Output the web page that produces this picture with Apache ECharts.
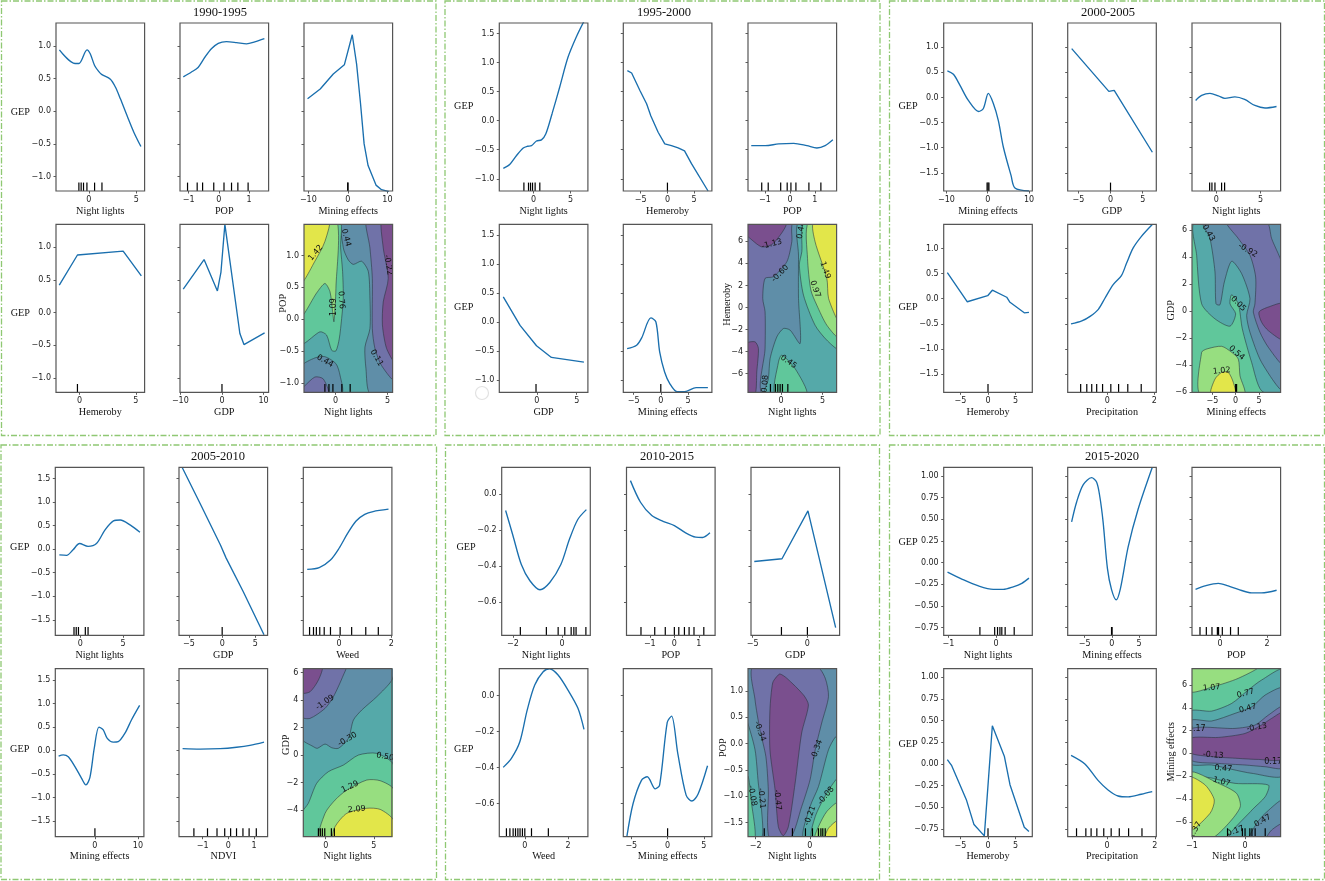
<!DOCTYPE html>
<html><head><meta charset="utf-8">
<style>html,body{margin:0;padding:0;background:#fff}#c{width:1325px;height:881px;filter:blur(.3px)}</style>
<script src="https://cdn.jsdelivr.net/npm/echarts@6/dist/echarts.min.js"></script>
</head><body><div id="c"></div>
<script>
// ---------- values ----------
const periods=['1990-1995','1995-2000','2000-2005','2005-2010','2010-2015','2015-2020'];
const gepRange=[[-1.22,1.35],[-1.21,1.68],[-1.86,1.48],[-1.83,1.74],[-0.783,0.15],[-0.84,1.10]];
const gepTicks=[[-1,-.5,0,.5,1],[-1,-.5,0,.5,1,1.5],[-1.5,-1,-.5,0,.5,1],[-1.5,-1,-.5,0,.5,1,1.5],[-.6,-.4,-.2,0],[-.75,-.5,-.25,0,.25,.5,.75,1]];
const gepDecimals=[1,1,1,1,1,2];

// 1990-1995
const night90=[[-3.12,.94],[-1.45,.73],[-1.06,.73],[-.2,.94],[.14,.88],[.6,.7],[1.03,.61],[1.38,.56],[2.27,.49],[2.8,.37],[3.33,.19],[4.04,-.07],[4.75,-.32],[5.5,-.54]];
const night90Rug=[-1.06,-.82,-.57,-.21,.6,1.38];
const pop90=[[-1.18,.525],[-.91,.6],[-.69,.67],[-.46,.83],[-.24,.96],[-.02,1.04],[.25,1.065],[.59,1.05],[.92,1.03],[1.19,1.06],[1.51,1.11]];
const pop90Rug=[-1.04,-.72,-.54,-.17,.17,.42,.63,.97];
const mining90=[[-10.2,.19],[-7,.34],[-3.7,.57],[-.9,.71],[1.1,1.17],[2.2,.72],[3.2,.11],[4.1,-.5],[5.1,-.83],[7.1,-1.13],[8.5,-1.2],[10.4,-1.23]];
const mining90Rug=[-.05,.02];
const hem90=[[-1.79,.42],[-.18,.88],[3.87,.94],[5.48,.56]];
const hem90Rug=[-.18];
const gdp90=[[-9.3,.36],[-4.3,.81],[-1.1,.33],[-.24,.62],[.7,1.35],[4.3,-.32],[5.28,-.49],[10.24,-.31]];
const gdp90Rug=[0];
// 1995-2000
const night95=[[-4.06,-.82],[-3.17,-.75],[-2.28,-.6],[-1.38,-.47],[-.8,-.44],[-.27,-.43],[.4,-.35],[1.07,-.33],[1.65,-.23],[2.5,.12],[3.53,.58],[4.64,1.09],[5.76,1.44],[6.79,1.71]];
const night95Rug=[-1.29,-.67,-.4,-.13,.22,.85];
const hem95=[[-7.5,.86],[-6.7,.82],[-5.15,.52],[-3.9,.29],[-3.1,.08],[-1.74,-.2],[-.5,-.4],[.75,-.43],[2,-.47],[3.2,-.52],[4.5,-.74],[7.6,-1.21]];
const hem95Rug=[0];
const pop95=[[-1.55,-.43],[-.99,-.43],[-.45,-.4],[.15,-.39],[.68,-.43],[1.08,-.47],[1.41,-.43],[1.72,-.33]];
const pop95Rug=[-1.13,-.87,-.37,-.11,.04,.24,.76,1.24];
const gdp95=[[-4.2,.43],[-2.1,-.06],[-.04,-.41],[1.83,-.61],[5.9,-.69]];
const gdp95Rug=[-.1];
const mining95=[[-6.2,-.46],[-4.45,-.4],[-3.5,-.27],[-1.83,.07],[-.9,0],[-.2,-.52],[.7,-.86],[1.65,-1.06],[3,-1.2],[4.4,-1.2],[6.5,-1.13],[8.66,-1.13]];
const mining95Rug=[0];
// 2000-2005
const mining00=[[-9.76,.53],[-8.3,.46],[-6.7,.24],[-4.68,-.06],[-2.18,-.28],[-1.05,-.22],[.16,.08],[1.37,-.12],[2.58,-.46],[3.8,-.99],[5.65,-1.55],[6.6,-1.8],[10,-1.86]];
const mining00Rug=[-.15,.08,.3];
const gdp00=[[-6.03,.97],[-.26,.12],[.57,.14],[6.5,-1.09]];
const gdp00Rug=[0];
const night00=[[-2.33,-.06],[-1.65,.04],[-.71,.08],[.23,.03],[.98,-.02],[2.1,.01],[3.2,-.04],[4.36,-.16],[5.5,-.21],[6.8,-.18]];
const night00Rug=[-.75,-.49,-.15,.6,.94];
const hem00=[[-7.4,.52],[-3.76,-.06],[-.06,.06],[.79,.17],[3.4,.03],[4,-.07],[6.6,-.28],[7.45,-.27]];
const hem00Rug=[0];
const prec00=[[-1.54,-.5],[-1.08,-.44],[-.73,-.35],[-.38,-.21],[-.1,.01],[.25,.28],[.6,.46],[.82,.71],[1.1,1.01],[1.45,1.24],[1.92,1.48]];
const prec00Rug=[-1.13,-.87,-.66,-.45,-.2,.15,.48,.87,1.44];
// 2005-2010
const night05=[[-2.43,-.12],[-1.58,-.13],[-.86,-.02],[-.07,.12],[.92,.06],[1.9,.12],[2.9,.41],[3.88,.6],[4.67,.62],[5.86,.51],[6.97,.36]];
const night05Rug=[-.72,-.46,-.2,.6,.92];
const gdp05=[[-6,1.73],[-3.25,.95],[-.26,.09],[.6,-.19],[3.16,-.9],[6.3,-1.82]];
const gdp05Rug=[0];
const weed05=[[-1.22,-.43],[-.76,-.39],[-.33,-.23],[0,.02],[.33,.34],[.65,.6],[.98,.74],[1.3,.8],[1.89,.85]];
const weed05Rug=[-1.13,-.98,-.87,-.74,-.57,-.33,.04,.48,1.02,1.5];
const mining05=[[-8.45,-.12],[-7.36,-.09],[-6.2,-.13],[-4.65,-.34],[-3.1,-.59],[-2.1,-.73],[-1.16,-.57],[-.15,.05],[.93,.5],[1.94,.44],[2.87,.26],[4.26,.18],[5.43,.19],[7,.37],[8.5,.65],[10.4,.96]];
const mining05Rug=[0];
const ndvi05=[[-1.78,.04],[-1.1,.03],[-.32,.04],[.32,.07],[.84,.11],[1.39,.18]];
const ndvi05Rug=[-1.34,-.81,-.44,-.14,.09,.32,.57,.81,1.09];
// 2010-2015
const night10=[[-2.3,-.09],[-2,-.23],[-1.66,-.39],[-1.31,-.48],[-.9,-.53],[-.5,-.49],[-.05,-.39],[.3,-.25],[.64,-.14],[.99,-.085]];
const night10Rug=[-1.7,-.64,-.16,.11,.37,.48,.57,.97];
const pop10=[[-1.79,.076],[-1.38,-.044],[-.92,-.118],[-.46,-.15],[0,-.174],[.46,-.214],[.87,-.238],[1.15,-.24],[1.45,-.214]];
const pop10Rug=[-1.36,-.8,-.37,0,.18,.41,.6,.8,1.2];
const gdp10=[[-4.85,-.373],[-2.32,-.358],[.05,-.092],[2.58,-.74]];
const gdp10Rug=[-2.37,0];
const weed10=[[-1,-.398],[-.62,-.348],[-.23,-.256],[.11,-.08],[.46,.059],[.85,.133],[1.15,.15],[1.54,.115],[2,.031],[2.46,-.07],[2.74,-.187]];
const weed10Rug=[-.85,-.69,-.54,-.43,-.32,-.22,-.11,0,.31,1.09];
const mining10=[[-5.6,-.78],[-4.76,-.6],[-3.6,-.47],[-2.8,-.45],[-1.7,-.517],[-1.1,-.496],[-.05,-.148],[.55,-.113],[1.4,-.32],[2.55,-.552],[3.35,-.585],[4.2,-.546],[5.5,-.389]];
const mining10Rug=[0];
// 2015-2020
const night15=[[-1.02,-.11],[-.72,-.19],[-.37,-.27],[-.06,-.31],[.15,-.31],[.36,-.28],[.54,-.24],[.69,-.18]];
const night15Rug=[-.34,-.03,.03,.08,.12,.19,.38];
const mining15=[[-7.38,.47],[-6.46,.7],[-5.24,.9],[-3.72,.98],[-2.8,.93],[-2.2,.76],[-1.6,.47],[-.8,-.07],[-.06,-.31],[.8,-.43],[1.58,-.3],[3,.18],[4.8,.61],[7.44,1.1]];
const mining15Rug=[-.05,.05];
const pop15=[[-1.04,-.31],[-.64,-.27],[-.07,-.24],[.35,-.27],[.78,-.31],[1.35,-.35],[1.77,-.35],[2.41,-.32]];
const pop15Rug=[-.85,-.58,-.34,-.11,-.06,.1,.45,.78];
const hem15=[[-7.4,.05],[-6.6,-.02],[-3.9,-.42],[-2.55,-.7],[-.67,-.83],[.79,.44],[2.97,.09],[4,-.24],[6.6,-.73],[7.45,-.78]];
const hem15Rug=[0];
const prec15=[[-1.51,.1],[-.93,0],[-.38,-.19],[.04,-.3],[.46,-.37],[.88,-.38],[1.43,-.35],[1.89,-.32]];
const prec15Rug=[-1.28,-.89,-.67,-.43,-.14,.17,.51,.9,1.46];

// contour regions: [band, outline in data units]; band 0 lowest ... 6 highest
const contour90=[
[3,[[-3.3,1.6],[5.7,1.6],[5.7,-1.2],[-3.3,-1.2]]],
[2,[[.67,1.6],[.74,1.12],[1.22,.93],[1.7,.86],[2.5,.91],[3.14,.75],[3.3,.33],[3.3,-.15],[2.82,-.44],[2.92,-.78],[3.3,-1.17],[5.7,-1.17],[5.7,1.6]]],
[1,[[2.98,1.6],[3.3,1.12],[3.53,.64],[3.53,-.15],[3.78,-.46],[4.42,-.73],[5.7,-.96],[5.7,1.6]]],
[0,[[4.42,1.6],[4.58,1.12],[5.06,.64],[4.58,.27],[4.5,-.09],[4.9,-.46],[5.7,-.67],[5.7,1.6]]],
[2,[[-3.27,-.74],[-1.99,-.61],[-1.03,-.59],[.03,-.7],[.42,-.88],[.58,-1.17],[-3.27,-1.17]]],
[1,[[-3.27,-1.1],[-3.04,-1.06],[-1.99,-.91],[-1.19,-.94],[-.71,-1.17],[-3.27,-1.17]]],
[4,[[-3.27,-.38],[-1.51,-.2],[-.87,-.25],[-.38,-.49],[.03,-.5],[.35,-.31],[.58,.01],[.74,.33],[.67,.75],[.48,1.12],[.35,1.6],[-3.27,1.6]]],
[5,[[-3.27,.06],[-1.83,.41],[-1.03,.56],[-.54,.43],[-.29,.12],[-.16,-.04],[.03,.48],[.03,1.6],[-3.27,1.6]]],
[6,[[-3.27,.58],[-1.99,.91],[-1.03,1.22],[-.61,1.6],[-3.27,1.6]]]];
const contour90Labels=[['1.42',-1.92,1.04,50],['0.44',1,1.28,-75],['-0.22',5.06,.85,-80],['1.09',-.16,.19,90],['0.76',.54,.3,-85],['0.44',-1.03,-.66,-30],['0.11',3.94,-.61,-60]];
const contour90Rug=[-1.03,-.64,-.26,.6,1.4];

const contour95=[
[1,[[-4.2,7.7],[6.95,7.7],[6.95,-7.9],[-4.2,-7.9]]],
[0,[[-4.2,6.5],[-4,6.42],[-2.34,5.5],[-.93,5.82],[.6,7.7],[-4.2,7.7]]],
[0,[[-4.2,-3.3],[-3.15,-3.12],[-2.74,-3.73],[-2.94,-5.85],[-3.15,-7.9],[-4.2,-7.9]]],
[2,[[1.49,7.7],[1.29,5.97],[.69,4.15],[-.93,2.79],[-1.94,2.64],[-2.22,.82],[-1.94,-.39],[-1.94,-3.73],[-2.2,-7.9],[6.95,-7.9],[6.95,7.7]]],
[3,[[2.1,7.7],[2.1,4.76],[2.1,.82],[2.3,-3.27],[1.09,-2.06],[.28,-1.91],[-.52,-2.67],[-1.33,-4.64],[-1.53,-6.45],[-1.94,-7.9],[6.95,-7.9],[6.95,7.7]]],
[4,[[2.78,7.7],[2.5,5.06],[2.2,3.85],[2.7,1.12],[4.1,-1.61],[5.52,-2.97],[6.94,-3.73],[6.94,7.7]]],
[5,[[3.3,7.7],[3.19,4.45],[3.59,1.58],[4.31,.21],[5.52,-1.61],[6.94,-2.67],[6.94,7.7]]],
[6,[[3.91,7.7],[4.1,5.97],[5.52,2.64],[5.73,.82],[6.94,-1.15],[6.94,7.7]]],
[4,[[-.73,-7.9],[-.32,-4.94],[.08,-4.33],[1.69,-5.55],[3.1,-7.9]]]];
const contour95Labels=[['-1.13',-1.13,5.76,15],['-0.60',-.12,3.09,45],['0.45',.89,-4.94,-35],['0.97',4.11,1.67,-70],['1.49',5.32,3.39,-70],['0.44',2.42,7.03,80],['-0.08',-1.94,-7.06,85]];
const contour95Rug=[-1.29,-.69,-.4,-.12,.16,.81];

const contour00=[
[4,[[-9.6,6.6],[10.2,6.6],[10.2,-6.2],[-9.6,-6.2]]],
[3,[[-8.71,6.6],[-8.36,4.13],[-7.29,.54],[-4.43,-.57],[-1.21,-1.11],[0,-.2],[-1.21,.54],[-.86,1.21],[.57,.54],[1.43,-1.31],[3.43,-3.79],[5.57,-5.89],[10.2,-6.14],[10.2,6.6]]],
[2,[[-6.93,6.6],[-5.5,5.37],[-4.43,2.9],[-4.21,.54],[-3.36,.47],[-2.43,2.15],[-.86,3.69],[1.29,2.77],[3.07,.92],[2.36,-.32],[3.07,-1.56],[5.57,-3.79],[10.2,-5.82],[10.2,6.6]]],
[1,[[-1.93,6.6],[.57,5.37],[3.07,4.13],[4.29,2.52],[4.14,.54],[3.79,-.07],[5.21,-1.56],[7,-2.67],[10.2,-3.91],[10.2,3.14],[7.71,5.37],[6.64,6.6]]],
[0,[[10.2,.54],[7,.3],[5,-.07],[5.57,-.82],[7,-1.44],[10.2,-2.1]]],
[5,[[-7.64,-6.14],[-7.29,-3.04],[-6.21,-2.8],[-3,-2.6],[-.86,-3.04],[.57,-3.54],[.93,-4.78],[1.86,-6.14]]],
[6,[[-5.29,-6.14],[-4.43,-5.02],[-3,-4.53],[-1.57,-4.53],[-.5,-5.27],[-.14,-6.14]]]];
const contour00Labels=[['-0.43',-6,5.87,-60],['-0.92',2.57,4.5,-30],['0.05',.57,.54,-45],['0.54',.21,-3.09,-40],['1.02',-3,-4.41,5]];
const contour00Rug=[0,.2];

const contour05=[
[3,[[-2.5,6.43],[7.05,6.43],[7.05,-6.07],[-2.5,-6.07]]],
[2,[[-2.5,1.21],[-1.28,.61],[-.87,.49],[-.07,.8],[.63,.53],[1.32,.49],[2.36,1.21],[2.88,2.55],[3.75,3.28],[5.31,4.25],[6.88,5.46],[7.05,6.43],[-2.5,6.43]]],
[1,[[-2.5,2.79],[-1.63,2.67],[-.07,3.4],[.8,4.25],[1.84,5.83],[2.08,6.43],[-2.5,6.43]]],
[0,[[-2.5,4.54],[-1.63,4.61],[-.76,5.46],[-.38,6.43],[-2.5,6.43]]],
[4,[[-2.5,-4.25],[-1.81,-3.52],[-.94,-2.06],[.28,-1.21],[1.84,-.73],[3.4,0],[5.31,.12],[7.05,-.73],[7.05,-6.07],[-2.5,-6.07]]],
[5,[[-.59,-6.07],[-.07,-4.25],[.97,-3.28],[2.19,-2.55],[4.27,-1.82],[5.66,-1.87],[7.05,-2.5],[7.05,-6.07]]],
[6,[[.8,-6.07],[.97,-5.22],[2.19,-4.25],[4.27,-3.88],[5.66,-3.96],[7.05,-4.73],[7.05,-6.07]]]];
const contour05Labels=[['-1.09',-.07,3.83,35],['-0.30',2.26,1.14,30],['0.50',6.18,-.12,-10],['1.29',2.53,-2.31,25],['2.09',3.23,-3.96,5]];
const contour05Rug=[-.76,-.56,-.35,-.1,.59,.9];

const contour10=[
[2,[[-2.4,1.46],[1.06,1.46],[1.06,-1.8],[-2.4,-1.8]]],
[1,[[-2.09,1.46],[-2.02,.83],[-1.84,.26],[-1.62,-.25],[-1.53,-.88],[-1.49,-1.8],[-.73,-1.8],[-.3,-1.2],[.01,-.69],[.2,-.12],[.44,.39],[.69,.89],[.57,1.24],[.26,1.46]]],
[0,[[-1.22,1.27],[-1.37,1.15],[-1.47,.64],[-1.47,-.12],[-1.28,-.88],[-1.16,-1.58],[-.98,-1.75],[-.79,-1.58],[-.54,-.75],[-.3,.2],[-.05,.73],[-.23,.92],[-.85,1.24],[-1.1,1.32]]],
[3,[[-2.4,.45],[-2.33,.45],[-2.02,-.12],[-1.9,-.75],[-1.78,-1.26],[-1.78,-1.8],[-2.4,-1.8]]],
[4,[[-2.4,-.59],[-2.27,-.63],[-2.15,-1.13],[-2.02,-1.8],[-2.4,-1.8]]],
[3,[[1.06,.12],[.94,.12],[.69,-.12],[.32,-.82],[.01,-1.2],[-.23,-1.8],[1.06,-1.8]]],
[4,[[1.06,-.66],[.63,-.94],[.2,-1.39],[.07,-1.8],[1.06,-1.8]]],
[5,[[1.06,-1.12],[.63,-1.29],[.32,-1.58],[.2,-1.8],[1.06,-1.8]]],
[6,[[1.06,-1.46],[.69,-1.61],[.57,-1.8],[1.06,-1.8]]]];
const contour10Labels=[['-0.34',-1.84,.23,-70],['-0.34',.26,-.12,70],['-0.47',-1.19,-1.07,-85],['-0.21',-1.78,-1.04,-85],['-0.08',-2.12,-.99,-80],['-0.21',.01,-1.37,70],['-0.08',.6,-.99,50]];
const contour10Rug=[-1.68,-.64,-.16,.1,.32,.41,.48,.57];

const contour15=[
[4,[[-1.04,7.6],[.72,7.6],[.72,-7.46],[-1.04,-7.46]]],
[5,[[-1.04,5.41],[-.6,5.85],[-.13,6.58],[.25,7.6],[-1.04,7.6]]],
[3,[[-1.04,3.65],[-.63,3.71],[-.25,4.39],[.06,5.56],[.31,6.43],[.72,7.31],[.72,-7.46],[-.31,-7.46],[.13,-4.97],[.38,-3.8],[.44,-2.78],[-.19,-2.63],[-.6,-2.19],[-1.04,-1.61]]],
[2,[[-1.04,2.84],[-.63,2.84],[-.19,3.51],[.13,4.09],[.38,5.12],[.72,5.7],[.72,-1.9],[.13,-1.75],[-.25,-1.4],[-.63,-1.02],[-1.04,-.88]]],
[2,[[.72,-4.09],[.38,-5.26],[.22,-6.14],[.09,-7.46],[.72,-7.46]]],
[1,[[-1.04,2.11],[-.19,2.19],[.19,2.49],[.44,3.36],[.72,4.09],[.72,-1.23],[.38,-1.17],[0,-1.02],[-.5,-.88],[-1.04,-.53]]],
[1,[[.72,-6.14],[.5,-6.73],[.41,-7.46],[.72,-7.46]]],
[0,[[-1.04,1.32],[-.5,1.4],[0,1.75],[.31,2.49],[.5,3.07],[.72,3.57],[.72,-.44],[.25,-.53],[-.13,-.44],[-.6,-.29],[-1.04,.06]]],
[5,[[-1.04,-1.7],[-.5,-2.63],[-.16,-3.51],[-.09,-4.68],[-.31,-6.14],[-.63,-7.46],[-1.04,-7.46]]],
[6,[[-1.04,-2.13],[-.75,-2.78],[-.58,-4.09],[-.66,-5.26],[-1.04,-6.73]]]];
const contour15Labels=[['1.07',-.63,5.76,5],['0.77',.01,5.26,15],['0.47',.05,3.95,15],['-0.13',.22,2.28,10],['0.17',-.91,2.19,0],['-0.13',-.6,-.15,-5],['0.47',-.41,-1.32,-5],['0.17',.53,-.79,0],['1.07',-.44,-2.49,-15],['0.47',.33,-5.91,30],['0.17',-.18,-6.81,20],['1.37',-.94,-6.73,60]];
const contour15Rug=[-.33,-.05,0,.09,.13,.19,.38];

// panel, row, col, x label, x range, x ticks, curve, rug, smooth
const curves=[
[0,0,0,'Night lights',[-3.48,5.89],[0,5],night90,night90Rug,1],
[0,0,1,'POP',[-1.29,1.65],[-1,0,1],pop90,pop90Rug,1],
[0,0,2,'Mining effects',[-11.1,11.3],[-10,0,10],mining90,mining90Rug,0],
[0,1,0,'Hemeroby',[-2.08,5.77],[0,5],hem90,hem90Rug,0],
[0,1,1,'GDP',[-10.08,11.2],[-10,0,10],gdp90,gdp90Rug,0],
[1,0,0,'Night lights',[-4.6,7.32],[0,5],night95,night95Rug,1],
[1,0,1,'Hemeroby',[-8.26,8.32],[-5,0,5],hem95,hem95Rug,0],
[1,0,2,'POP',[-1.68,1.87],[-1,0,1],pop95,pop95Rug,1],
[1,1,0,'GDP',[-4.7,6.4],[0,5],gdp95,gdp95Rug,0],
[1,1,1,'Mining effects',[-6.9,9.4],[-5,0,5],mining95,mining95Rug,1],
[2,0,0,'Mining effects',[-10.65,10.8],[-10,0,10],mining00,mining00Rug,1],
[2,0,1,'GDP',[-6.65,7.11],[-5,0,5],gdp00,gdp00Rug,0],
[2,0,2,'Night lights',[-2.74,7.26],[0,5],night00,night00Rug,1],
[2,1,0,'Hemeroby',[-8.06,8.06],[-5,0,5],hem00,hem00Rug,0],
[2,1,1,'Precipitation',[-1.68,2.08],[0,2],prec00,prec00Rug,1],
[3,0,0,'Night lights',[-2.9,7.43],[0,5],night05,night05Rug,1],
[3,0,1,'GDP',[-6.5,6.84],[-5,0,5],gdp05,gdp05Rug,0],
[3,0,2,'Weed',[-1.37,2.02],[0,2],weed05,weed05Rug,1],
[3,1,0,'Mining effects',[-9.22,11.4],[0,10],mining05,mining05Rug,1],
[3,1,1,'NDVI',[-1.92,1.53],[-1,0,1],ndvi05,ndvi05Rug,1],
[4,0,0,'Night lights',[-2.46,1.15],[-2,0],night10,night10Rug,1],
[4,0,1,'POP',[-1.95,1.66],[-1,0,1],pop10,pop10Rug,1],
[4,0,2,'GDP',[-5.15,2.94],[-5,0],gdp10,gdp10Rug,0],
[4,1,0,'Weed',[-1.18,2.92],[0,2],weed10,weed10Rug,1],
[4,1,1,'Mining effects',[-6.1,6.1],[-5,0,5],mining10,mining10Rug,1],
[5,0,0,'Night lights',[-1.1,.76],[-1,0],night15,night15Rug,1],
[5,0,1,'Mining effects',[-8.1,8.17],[-5,0,5],mining15,mining15Rug,1],
[5,0,2,'POP',[-1.19,2.58],[0,2],pop15,pop15Rug,1],
[5,1,0,'Hemeroby',[-8.06,8.06],[-5,0,5],hem15,hem15Rug,0],
[5,1,1,'Precipitation',[-1.65,2.06],[0,2],prec15,prec15Rug,1]];

// panel, x label, x range, x ticks, y label, y range, y ticks, y decimals, regions, labels, rug
const contours=[
[0,'Night lights',[-3.04,5.48],[0,5],'POP',[-1.15,1.49],[-1,-.5,0,.5,1],1,contour90,contour90Labels,contour90Rug],
[1,'Night lights',[-4,6.7],[0,5],'Hemeroby',[-7.7,7.55],[-6,-4,-2,0,2,4,6],0,contour95,contour95Labels,contour95Rug],
[2,'Mining effects',[-9.36,9.64],[-5,0,5],'GDP',[-6,6.42],[-6,-4,-2,0,2,4,6],0,contour00,contour00Labels,contour00Rug],
[3,'Night lights',[-2.33,6.88],[0,5],'GDP',[-5.95,6.29],[-4,-2,0,2,4,6],0,contour05,contour05Labels,contour05Rug],
[4,'Night lights',[-2.28,.99],[-2,0],'POP',[-1.77,1.42],[-1.5,-1,-.5,0,.5,1],1,contour10,contour10Labels,contour10Rug],
[5,'Night lights',[-1,.67],[-1,0],'Mining effects',[-7.31,7.43],[-6,-4,-2,0,2,4,6],0,contour15,contour15Labels,contour15Rug]];

// ---------- layout and style ----------
const bandColors=['#7a4f8e','#7072a8','#5f8ea8','#55a9a9','#60c79b','#97de80','#e2e64a'];
const rowTop=[[23,224.3],[23,224.3],[23,224.3],[467.3,668.7],[467.3,668.7],[467.3,668.7]];
const colLeft=[
 [[56,180,304],[56,180,304]],
 [[499.3,623.3,748],[499.3,623.3,748]],
 [[943.7,1067.7,1192],[943.7,1067.7,1192]],
 [[55.3,179,303.3],[55.3,179,303.3]],
 [[501.7,626.5,751],[499.3,623.3,748]],
 [[943.7,1067.7,1192],[943.7,1067.7,1192]]];
const W=88.6,H=168;
const titleX=[220,664,1108,218,667,1112], titleY=[6,6,6,450,450,450];
const gepShift=[5,-1,-1,-3.6,-3.6,-8.5];
const contourNameGap=[16,16,16,12,20,16], contourNameShift=[5,4,-2,8,5,1];
const frames=[[1.5,1,434.5,434.5],[445,1,435,434.5],[889.5,1,435,434.5],[1,445,435.5,434.5],[445.5,445,434,434.5],[889.5,445,435,434.5]];
const serif='"Liberation Serif"', sans='"DejaVu Sans"';

const grids=[],xAxes=[],yAxes=[],series=[],graphics=[];
function fmt(d){return v=>(v<0?'\u2212':'')+Math.abs(v).toFixed(d);}
function addAxes(panel,row,col,xName,xr,xt,yr,yt,yDec,showY,yOpt){
  const i=grids.length;
  grids.push({left:colLeft[panel][row][col],top:rowTop[panel][row],width:W,height:H,show:true,z:10,
    backgroundColor:'transparent',borderColor:'#555',borderWidth:1.2});
  xAxes.push({gridIndex:i,type:'value',min:xr[0],max:xr[1],position:'bottom',
    name:xName,nameLocation:'middle',nameGap:15,nameMoveOverlap:false,
    nameTextStyle:{fontFamily:serif,fontSize:10.2,color:'#111'},
    axisLine:{show:false,onZero:false},splitLine:{show:false},
    axisTick:{show:true,length:2.5,customValues:xt,lineStyle:{color:'#333',width:.8}},
    axisLabel:{show:true,customValues:xt,margin:5,fontFamily:sans,fontSize:8,color:'#222',formatter:fmt(0)}});
  yAxes.push(Object.assign({gridIndex:i,type:'value',min:yr[0],max:yr[1],position:'left',
    axisLine:{show:false,onZero:false},splitLine:{show:false},nameMoveOverlap:false,
    axisTick:{show:true,length:2.5,customValues:yt,lineStyle:{color:'#333',width:.8}},
    axisLabel:{show:showY,customValues:yt,margin:5,fontFamily:sans,fontSize:8,color:'#222',formatter:fmt(yDec)}},yOpt||{}));
  return i;
}
function rugSeries(i,rug){
  return {type:'custom',xAxisIndex:i,yAxisIndex:i,coordinateSystem:'cartesian2d',clip:true,silent:true,z:4,
    data:rug.map(v=>[v]),
    renderItem(p,api){
      const yr=yAxes[i],v=rug[p.dataIndex];
      const a=api.coord([v,yr.min]),b=api.coord([v,yr.min+.05*(yr.max-yr.min)]);
      return {type:'line',shape:{x1:a[0],y1:a[1],x2:b[0],y2:b[1]},style:{stroke:'#000',lineWidth:1.2}};
    }};
}
curves.forEach(([panel,row,col,name,xr,xt,line,rug,smooth])=>{
  if(col===0) graphics.push({type:'text',silent:true,x:colLeft[panel][row][0]-26,y:rowTop[panel][row]+H/2+gepShift[panel],
    style:{text:'GEP',font:'10.2px "Liberation Serif"',fill:'#111',align:'right',verticalAlign:'middle'}});
  const i=addAxes(panel,row,col,name,xr,xt,gepRange[panel],gepTicks[panel],gepDecimals[panel],col===0);
  series.push({type:'line',xAxisIndex:i,yAxisIndex:i,data:line,showSymbol:false,silent:true,clip:true,
    smooth:smooth?0.3:false,lineStyle:{color:'#1a6fae',width:1.35},z:3});
  series.push(rugSeries(i,rug));
});
contours.forEach(([panel,name,xr,xt,yName,yr,yt,yDec,regions,labels,rug])=>{
  const s=contourNameShift[panel];
  const i=addAxes(panel,1,2,name,xr,xt,yr,yt,yDec,true,{
    name:yName,nameLocation:'middle',nameRotate:90,nameGap:contourNameGap[panel],
    nameTextStyle:{fontFamily:serif,fontSize:10.2,color:'#111',padding:[0,0,0,2*s]}});
  series.push({type:'custom',xAxisIndex:i,yAxisIndex:i,coordinateSystem:'cartesian2d',clip:true,silent:true,z:2,
    data:regions.map((r,k)=>[k]),
    renderItem(p,api){
      const [band,pts]=regions[p.dataIndex];
      return {type:'polygon',shape:{points:pts.map(q=>api.coord(q)),smooth:p.dataIndex?0.25:0},
        style:{fill:bandColors[band],stroke:'rgba(40,50,60,.7)',lineWidth:.8}};
    }});
  series.push({type:'custom',xAxisIndex:i,yAxisIndex:i,coordinateSystem:'cartesian2d',clip:true,silent:true,z:3,
    data:labels.map((l,k)=>[k]),
    renderItem(p,api){
      const [t,x,y,ang]=labels[p.dataIndex],c=api.coord([x,y]);
      return {type:'text',x:c[0],y:c[1],rotation:ang*Math.PI/180,
        style:{text:t,fill:'#111',font:'8px "DejaVu Sans"',align:'center',verticalAlign:'middle'}};
    }});
  series.push(rugSeries(i,rug));
});

frames.forEach(f=>graphics.push({type:'rect',silent:true,z:0,shape:{x:f[0],y:f[1],width:f[2],height:f[3]},
  style:{fill:'none',stroke:'#8fc873',lineWidth:1.3,lineDash:[6,2,1.5,2]}}));
graphics.push({type:'circle',silent:true,shape:{cx:482,cy:393,r:6.5},style:{fill:'none',stroke:'#e2e2e2',lineWidth:1.2}});

const chart=echarts.init(document.getElementById('c'),null,{renderer:'canvas'});
chart.setOption({animation:false,backgroundColor:'#fff',
  title:periods.map((t,k)=>({text:t,left:titleX[k],top:titleY[k],textAlign:'center',padding:0,
    textStyle:{fontFamily:serif,fontSize:12.5,fontWeight:'normal',color:'#111'}})),
  grid:grids,xAxis:xAxes,yAxis:yAxes,series:series,graphic:graphics,tooltip:{show:false},legend:{show:false}});
</script></body></html>
